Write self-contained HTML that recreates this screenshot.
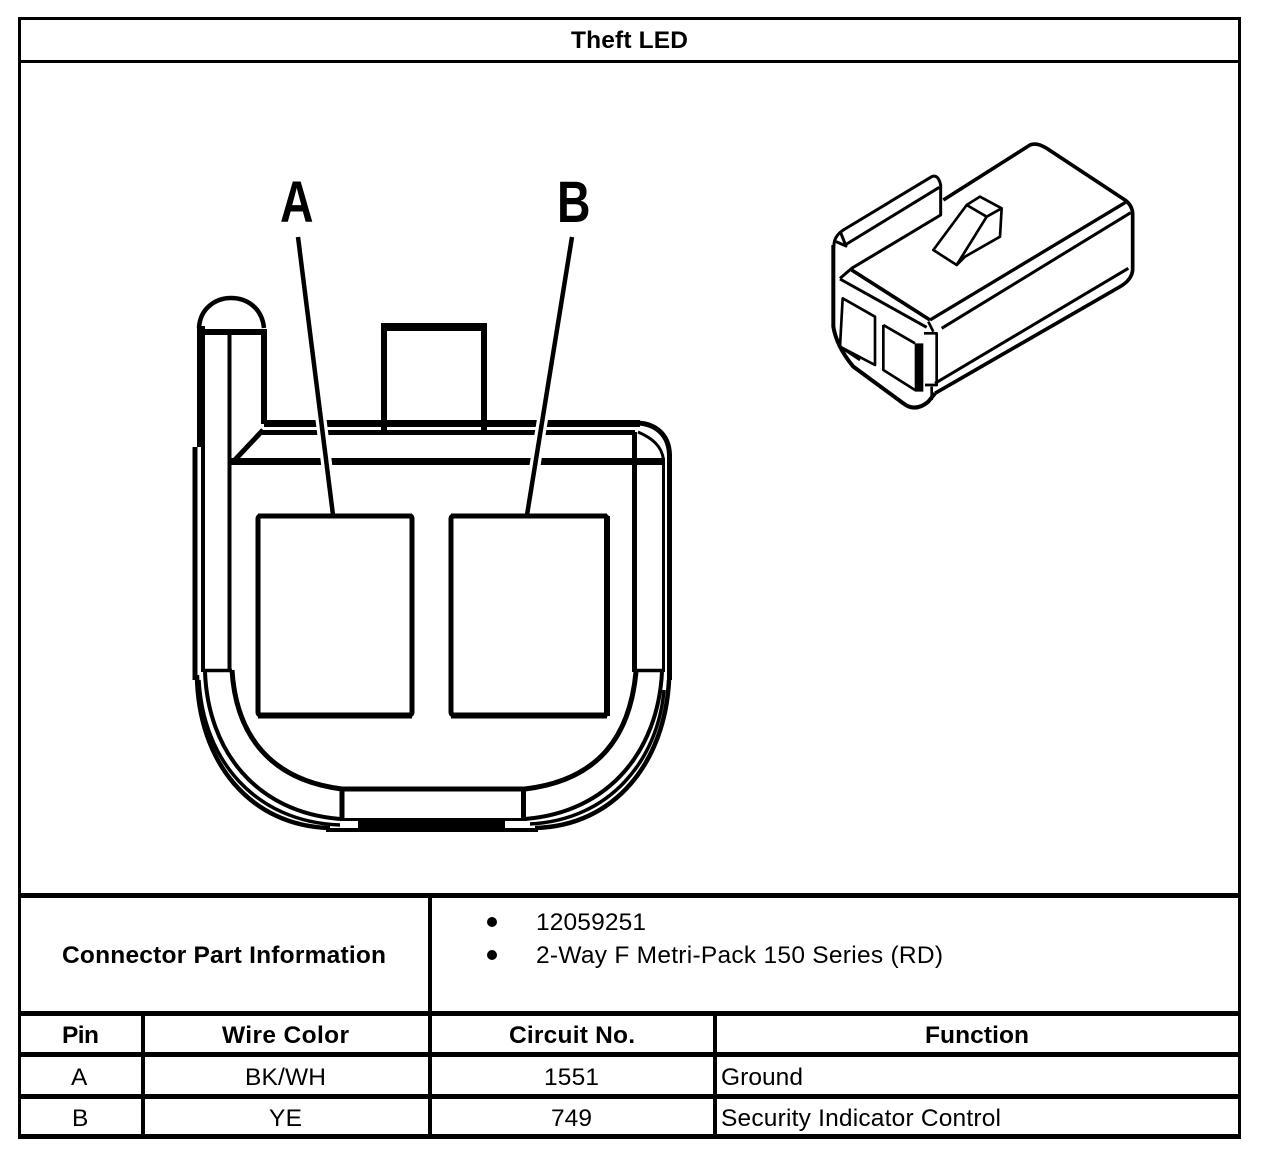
<!DOCTYPE html>
<html><head><meta charset="utf-8"><style>
html,body{margin:0;padding:0;background:#fff}
svg{display:block}
text{font-family:"Liberation Sans",sans-serif;fill:#000;font-size:24.5px}
.b{font-weight:bold}
</style></head><body>
<svg width="1280" height="1160" viewBox="0 0 1280 1160" xmlns="http://www.w3.org/2000/svg">
<rect width="1280" height="1160" fill="#fff"/>
<!-- table -->
<g fill="#000">
<rect x="18" y="17" width="1223" height="3"/>
<rect x="18" y="17" width="3" height="1122"/>
<rect x="1238" y="17" width="3" height="1122"/>
<rect x="18" y="60" width="1223" height="3"/>
<rect x="18" y="893" width="1223" height="5"/>
<rect x="18" y="1011" width="1223" height="5"/>
<rect x="18" y="1052" width="1223" height="5"/>
<rect x="18" y="1094" width="1223" height="5"/>
<rect x="18" y="1134" width="1223" height="5"/>
<rect x="428" y="893" width="4" height="246"/>
<rect x="141" y="1011" width="4" height="128"/>
<rect x="713" y="1011" width="4" height="128"/>
<circle cx="492" cy="922" r="5"/>
<circle cx="492" cy="955" r="5"/>
</g>
<g>
<text class="b" x="571" y="48" textLength="117">Theft LED</text>
<text class="b" x="62" y="963" textLength="324">Connector Part Information</text>
<text x="536" y="930" textLength="110">12059251</text>
<text x="536" y="963" textLength="407">2-Way F Metri-Pack 150 Series (RD)</text>
<text class="b" x="62" y="1043" textLength="37">Pin</text>
<text class="b" x="222" y="1043" textLength="127">Wire Color</text>
<text class="b" x="509" y="1043" textLength="126">Circuit No.</text>
<text class="b" x="925" y="1043" textLength="104">Function</text>
<text x="71" y="1085" textLength="18">A</text>
<text x="245" y="1085" textLength="81">BK/WH</text>
<text x="544" y="1085" textLength="55">1551</text>
<text x="721" y="1085" textLength="82">Ground</text>
<text x="72" y="1126" textLength="16">B</text>
<text x="269" y="1126" textLength="33">YE</text>
<text x="551" y="1126" textLength="41">749</text>
<text x="721" y="1126" textLength="280">Security Indicator Control</text>
</g>
<!-- big connector view -->
<g fill="none" stroke="#000" stroke-linecap="butt" stroke-linejoin="round">
<!-- tab at upper left -->
<path d="M199 328 C200 308 216 298 231 298 C247 298 262 308 264 328" stroke-width="4.500"/>
<path d="M197 332 H267" stroke-width="6"/>
<path d="M201 326 V447" stroke-width="8"/>
<path d="M203 447 V672" stroke-width="4"/>
<path d="M229.500 332 V672" stroke-width="4"/>
<path d="M264 332 V424" stroke-width="6"/>
<path d="M195 447 V680" stroke-width="5"/>
<!-- top rails -->
<path d="M264 423.500 H640" stroke-width="7"/>
<path d="M262 432.500 H635" stroke-width="5"/>
<path d="M263 430 L232 463" stroke-width="5"/>
<path d="M230 461.500 H665" stroke-width="7"/>
<!-- notch -->
<path d="M384 430 V327 H484 V430" stroke-width="6"/>
<path d="M381 327 H487" stroke-width="8"/>
<!-- right corner and side -->
<path d="M638 423 C655 424 669 434 669.500 455 V680" stroke-width="5"/>
<path d="M638 432 C652 438 662 446 663.500 460 V672" stroke-width="3"/>
<path d="M634.500 432 V672" stroke-width="5"/>
<!-- pins -->
<path d="M258 519 Q258 516 261 516 H410 Q412 516 412 519 V712 Q412 715 409 715 H261 Q258 715 258 712 Z" stroke-width="5"/>
<path d="M451 519 Q451 516 454 516 H604 Q607 516 607 519 V712 Q607 715 604 715 H454 Q451 715 451 712 Z" stroke-width="5"/>
<path d="M258 716 H412 M451 716 H607" stroke-width="5"/>
<path d="M607 516 V716" stroke-width="6"/>
<!-- bottom shell -->
<path d="M205 670.500 H232" stroke-width="3.500"/>
<path d="M636 670.500 H662" stroke-width="3.500"/>
<path d="M232 670 C236 735 270 780 342 789 H525 C600 780 630 735 636 672" stroke-width="5"/>
<path d="M342 790 V820" stroke-width="5"/>
<path d="M523.500 790 V820" stroke-width="5"/>
<path d="M205 672 C208 750 255 812 340 819" stroke-width="4"/>
<path d="M662 672 C658 750 610 812 525 819" stroke-width="4"/>
<path d="M197 675 C198 762 250 826 330 828" stroke-width="4.500"/>
<path d="M199 680 C203 760 255 822 340 825" stroke-width="3.500"/>
<path d="M669 680 C665 762 615 826 535 828" stroke-width="4.500"/>
<path d="M664 690 C658 760 610 820 530 824" stroke-width="3.500"/>
<path d="M326 830 H538" stroke-width="4"/>
<path d="M358 825 H505" stroke-width="14"/>
<path d="M340 819.500 H526" stroke-width="3"/>
<!-- leaders with white halo -->
<path d="M298 237 L333 515" stroke="#fff" stroke-width="11"/>
<path d="M572 237 L527 515" stroke="#fff" stroke-width="11"/>
<path d="M298 237 L333 515" stroke-width="4.500"/>
<path d="M572 237 L527 515" stroke-width="4.500"/>
<path d="M258 516 H412 M451 516 H607" stroke-width="5"/>
</g>
<text class="b" transform="translate(280,222) scale(.8,1)" style="font-size:58px">A</text>
<text class="b" transform="translate(557,222) scale(.8,1)" style="font-size:58px">B</text>
<!-- isometric connector -->
<g transform="translate(820,130) scale(.33333)" fill="none" stroke="#000" stroke-width="9" stroke-linejoin="round">
<path d="M370 210 L630 45 Q650 36 680 55 L915 210 Q936 225 938 250 V420 Q935 450 900 470 L345 790" stroke-width="11"/>
<path d="M42 350 Q40 320 70 300 L335 140 Q355 132 362 165 V255 L95 415 L60 445"/>
<path d="M75 345 L358 172"/>
<path d="M48 335 L78 348 L62 308"/>
<path d="M95 420 L330 570" stroke-width="11"/>
<path d="M60 447 L320 592"/>
<path d="M330 570 L920 215" stroke-width="10"/>
<path d="M365 595 L932 248"/>
<path d="M40 345 V590 Q50 650 100 710 L250 820 Q285 848 325 815 L345 790" stroke-width="12"/>
<path d="M60 650 L120 690" stroke-width="8"/>
<path d="M68 505 L165 560 V705 L60 650 Z" stroke-width="8"/>
<path d="M190 585 L285 640 M190 585 V720 L285 780" stroke-width="8"/>
<path d="M297 640 V785" stroke-width="26"/>
<path d="M312 610 H350 V765 H315" stroke-width="8"/>
<path d="M340 605 L325 575" stroke-width="8"/>
<path d="M345 760 L925 415" stroke-width="9"/>
<path d="M335 770 V810" stroke-width="8"/>
<path d="M340 360 L440 225 L480 200 L545 235 L540 320 L435 380 L410 405 Z" stroke-width="8"/>
<path d="M440 225 L500 260 L545 235 M500 260 L410 405" stroke-width="8"/>
</g>
</svg>
</body></html>
